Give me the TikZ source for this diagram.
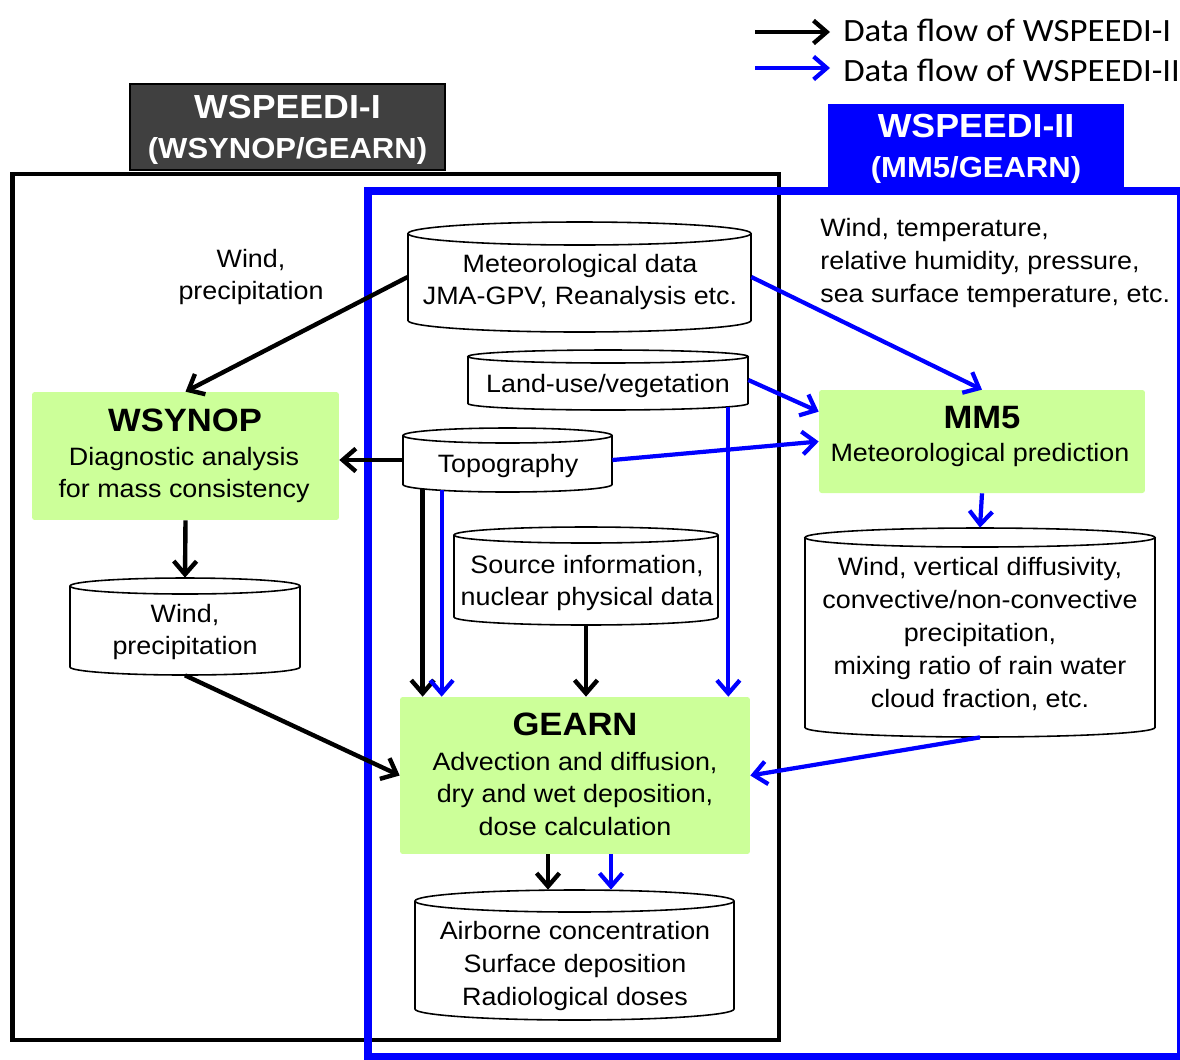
\documentclass[tikz,border=0pt]{standalone}
\usepackage{fontspec}
\setmainfont{Liberation Sans}[FakeStretch=1.07]
\newfontfamily\legendfont{Carlito}[FakeStretch=1.07]
\usetikzlibrary{arrows.meta,calc}
\definecolor{boxgreen}{RGB}{204,255,153}
\definecolor{hdrgray}{RGB}{64,64,64}
\definecolor{flowblue}{RGB}{0,0,255}
\newcommand{\drawcyl}[6]{%
  \node[cylbox, minimum width={(#4-#2)*0.02cm}, minimum height={(#5-#3)*0.02cm}] (#1) at ({(#2+#4)/2},{(#3+#5)/2}) {};
  \draw[cylline] (#2,{#3+#6}) -- (#2,{#5-#6}) arc[start angle=180,end angle=0,x radius={(#4-#2)/2},y radius=#6] -- (#4,{#3+#6});
  \draw[cylline] ({(#2+#4)/2},{#3+#6}) ellipse[x radius={(#4-#2)/2},y radius=#6];
}
\begin{document}
\begin{tikzpicture}[x=0.02cm,y=-0.02cm,
  txt/.style={font=\fontsize{14.3}{18.7}\selectfont, align=center, inner sep=0pt},
  ttl/.style={font=\fontsize{18.4}{22}\selectfont\bfseries, inner sep=0pt},
  gbox/.style={fill=boxgreen, rounded corners=1.5pt, inner sep=0pt},
  cylbox/.style={inner sep=0pt, draw=none},
  cylline/.style={draw=black, line width=0.9pt, fill=white},
  hdrbox/.style={inner sep=0pt},
  hdr/.style={inner sep=0pt, align=center, text=white, font=\bfseries\fontsize{16.5}{22.7}\selectfont},
  legtxt/.style={anchor=west, inner xsep=0.26cm, inner ysep=0pt, font=\legendfont\fontsize{18.5}{21}\selectfont},
  barrow/.style={draw=black, line width=2.5pt, -{Straight Barb[length=7.5pt,width=13pt]}},
  blarrow/.style={draw=flowblue, line width=2.4pt, -{Straight Barb[length=7.5pt,width=13pt]}}
]
\useasboundingbox (0,0) rectangle (1180,1059);
% frames
\draw[line width=2.8pt] (12.5,174) rectangle (779,1040);
\draw[flowblue, line width=5pt] (368,191) rectangle (1181,1057);
% headers
\node[hdrbox, fill=hdrgray, draw=black, line width=0.8pt, minimum width=6.3cm, minimum height=1.72cm] (hdrI) at (287.5,127) {};
\node[hdr] (hdrIT) at (287.5,130) {{\fontsize{19}{22.7}\selectfont WSPEEDI-I}\\(WSYNOP/GEARN)};
\node[hdrbox, fill=flowblue, minimum width=5.92cm, minimum height=1.68cm] (hdrII) at (976,146) {};
\node[hdr] (hdrIIT) at (976,149) {{\fontsize{19}{22.7}\selectfont WSPEEDI-II}\\(MM5/GEARN)};
% legend
\node[legtxt] (lg1) at (830,30) {Data flow of WSPEEDI-I};
\node[legtxt] (lg2) at (830,70) {Data flow of WSPEEDI-II};
\coordinate (lgs1) at (755,32);
\coordinate (lgs2) at (755,68);
\draw[barrow] (lgs1) -- (lgs1 -| lg1.west);
\draw[blarrow] (lgs2) -- (lgs2 -| lg2.west);
% free labels
\node[txt] (lblwp) at (251,277) {Wind,\\precipitation};
\node[txt, align=left, anchor=west] (lblmm) at (820,263) {Wind, temperature,\\relative humidity, pressure,\\sea surface temperature, etc.};
% green boxes
\node[gbox, minimum width=6.14cm, minimum height=2.56cm] (wsynop) at (185.5,456) {};
\node[ttl] (wsynopT) at (185,420) {WSYNOP};
\node[txt] (wsynopB) at (184,475) {Diagnostic analysis\\for mass consistency};
\node[gbox, minimum width=6.52cm, minimum height=2.06cm] (mm5) at (982,441.5) {};
\node[ttl] (mm5T) at (982,418) {MM5};
\node[txt] (mm5B) at (980,455) {Meteorological prediction};
\node[gbox, minimum width=7cm, minimum height=3.14cm] (gearn) at (575,775.5) {};
\node[ttl] (gearnT) at (575,724) {GEARN};
\node[txt] (gearnB) at (575,794) {Advection and diffusion,\\dry and wet deposition,\\dose calculation};
% cylinders
\drawcyl{met}{408}{222}{751}{332}{11.5}
\node[txt] (metT) at (580,282) {Meteorological data\\JMA-GPV, Reanalysis etc.};
\drawcyl{lu}{468}{350}{748}{410}{6.5}
\node[txt] (luT) at (608,386) {Land-use/vegetation};
\drawcyl{topo}{403}{428}{612}{492}{7.5}
\node[txt] (topoT) at (508,466) {Topography};
\drawcyl{src}{454}{527}{718}{625}{8}
\node[txt] (srcT) at (587,583) {Source information,\\nuclear physical data};
\drawcyl{wp}{70}{578}{300}{675}{8}
\node[txt] (wpT) at (185,632) {Wind,\\precipitation};
\drawcyl{mmout}{805}{528}{1155}{737}{9.5}
\node[txt] (mmoutT) at (980,634) {Wind, vertical diffusivity,\\convective/non-convective\\precipitation,\\mixing ratio of rain water\\cloud fraction, etc.};
\drawcyl{out}{415}{890}{734}{1020}{11}
\node[txt] (outT) at (575,966) {Airborne concentration\\Surface deposition\\Radiological doses};
% helper coordinates
\coordinate (tb1) at ($(topo.south west)+(20,-3)$);
\coordinate (tb2) at ($(topo.south west)+(39,-2)$);
\coordinate (lub) at ($(lu.south east)+(-20,-3)$);
\coordinate (m1) at ($(mm5.north west)+(0,22)$);
\coordinate (gb1) at ($(gearn.south)+(-27,0)$);
\coordinate (gb2) at ($(gearn.south)+(36,0)$);
% black flows
\draw[barrow] (met.west) -- (wsynop.north);
\draw[barrow] (topo.west) -- (topo.west -| wsynop.east);
\draw[barrow] (wsynop.south) -- (wp.north);
\draw[barrow] (wp.south) -- (gearn.west);
\draw[barrow] (tb1) -- (tb1 |- gearn.north);
\draw[barrow] (src.south) -- (src.south |- gearn.north);
\draw[barrow] (gb1) -- (gb1 |- out.north);
% blue flows
\draw[blarrow] (met.east) -- (mm5.north);
\draw[blarrow] (lu.east) -- (m1);
\draw[blarrow] (lub) -- (lub |- gearn.north);
\draw[blarrow] (topo.east) -- (mm5.west);
\draw[blarrow] (tb2) -- (tb2 |- gearn.north);
\draw[blarrow] (mm5.south) -- (mmout.north);
\draw[blarrow] (mmout.south) -- (gearn.east);
\draw[blarrow] (gb2) -- (gb2 |- out.north);
\end{tikzpicture}
\end{document}
